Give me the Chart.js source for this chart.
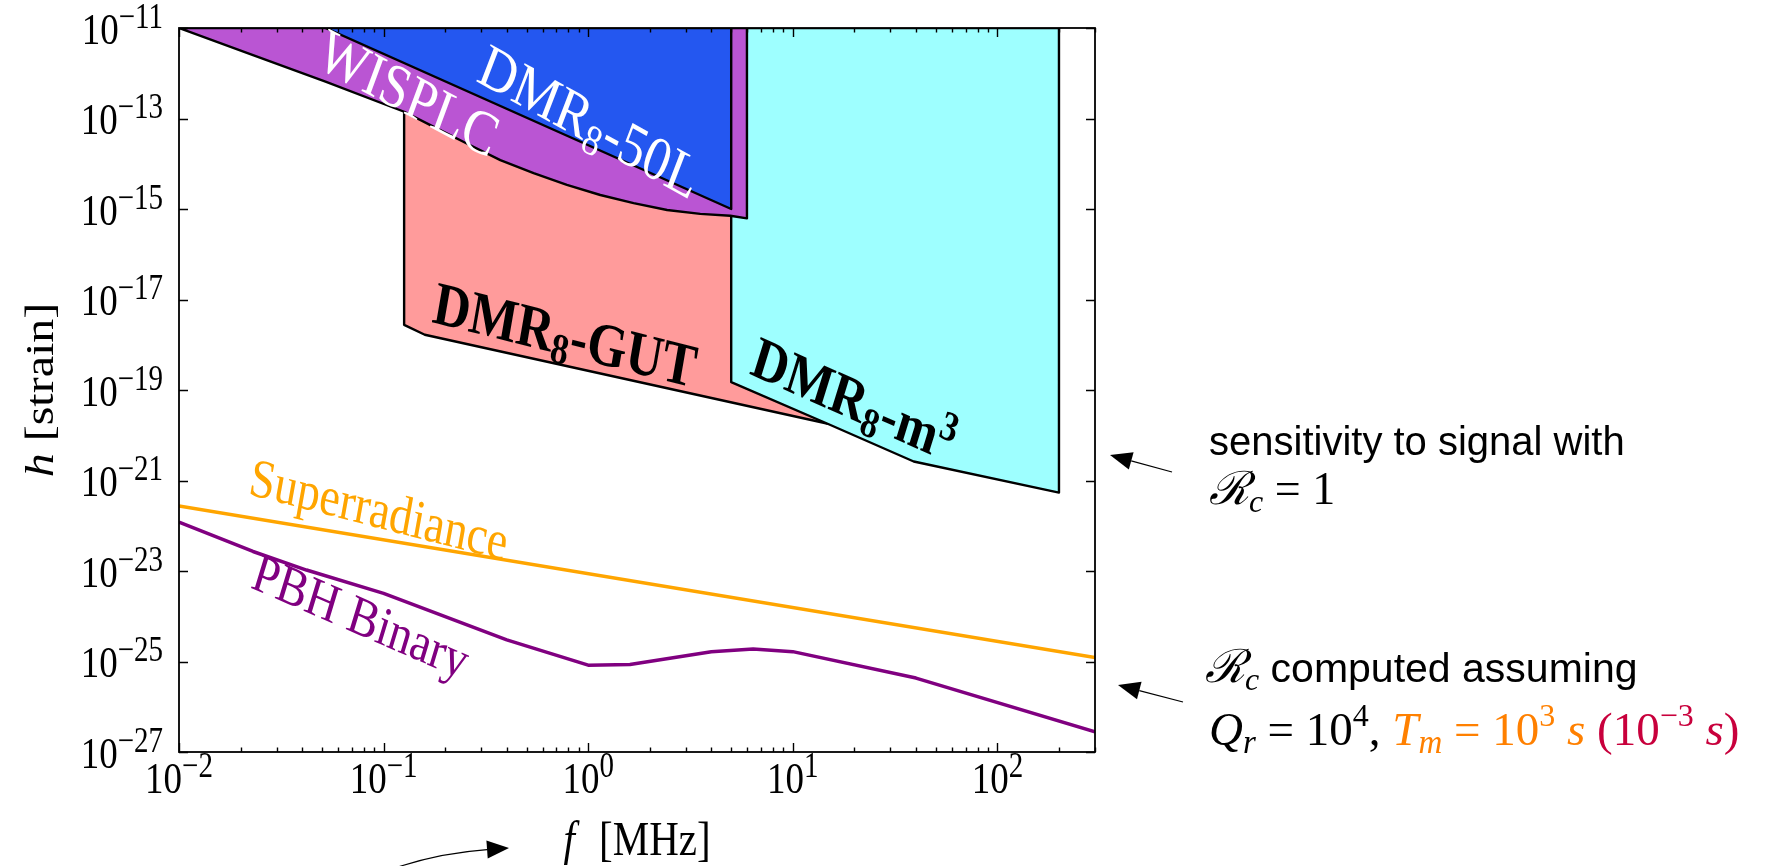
<!DOCTYPE html>
<html>
<head>
<meta charset="utf-8">
<script src="https://cdn.jsdelivr.net/npm/chart.js@4.4.1/dist/chart.umd.min.js"></script>
<style>
  html, body { margin: 0; padding: 0; background: #fff; }
  canvas { display: block; }
</style>
</head>
<body>
<canvas id="myChart" width="1780" height="866"></canvas>
<script>
// f in MHz, h dimensionless strain
const wisplcF = [0.01, 0.023, 0.052, 0.126, 0.175, 0.255, 0.372, 0.541, 0.787, 1.146, 1.667, 2.43, 3.53, 4.95, 5.97, 5.97, 0.01];
const wisplcH = [1e-11, 2.5e-12, 6.5e-13, 1.41e-13, 6.6e-14, 2.8e-14, 1.2e-14, 6.2e-15, 3.4e-15, 2.04e-15, 1.35e-15, 9.5e-16, 7.8e-16, 7.1e-16, 6.2e-16, 1e-11, 1e-11];

const dmr50F = [0.052, 5.0, 5.0, 0.052];
const dmr50H = [1e-11, 1e-15, 1e-11, 1e-11];

const gutF = [0.126, 0.126, 0.159, 14.7, 14.7, 0.126];
const gutH = [1e-11, 2.75e-18, 1.66e-18, 1.82e-20, 1e-11, 1e-11];

const m3F = [5.0, 5.0, 14.7, 39, 200, 200, 5.0];
const m3H = [1e-11, 1.5e-19, 1.82e-20, 2.63e-21, 5.4e-22, 1e-11, 1e-11];

const superF = [0.01, 300];
const superH = [2.75e-22, 1.23e-25];

const pbhF = [0.01, 0.023, 0.042, 0.1, 0.4, 1.0, 1.6, 4.0, 6.4, 10, 40, 300];
const pbhH = [1.2e-22, 2.7e-23, 1.05e-23, 3.2e-24, 3.0e-25, 8.3e-26, 8.6e-26, 1.65e-25, 1.9e-25, 1.65e-25, 4.3e-26, 2.8e-27];

const xTickExp = [-2, -1, 0, 1, 2];
const yTickExp = [-11, -13, -15, -17, -19, -21, -23, -25, -27];

const SERIF = "'Liberation Serif', 'DejaVu Serif', serif";
const SANS = "'Liberation Sans', Arial, sans-serif";
const TALL = 1.2;   // plot lettering is drawn a bit taller than wide

function zip(fs, hs) {
    return fs.map((f, i) => ({ x: f, y: hs[i] }));
}

// one piece of a mixed-font text line
function P(text, size, opt) {
    opt = opt || {};
    return {
        text: text,
        size: size,
        font: (opt.style || '') + ' ' + (opt.weight || '') + ' ' + size + 'px ' + (opt.family || SERIF),
        color: opt.color,
        dy: opt.dy || 0,
        gap: opt.gap || 0
    };
}

function richText(ctx, parts, x, y, o) {
    o = o || {};
    const sx = o.sx || 1, sy = o.sy || 1;
    const t = (o.rot || 0) * Math.PI / 180;
    ctx.save();
    ctx.translate(x, y);
    ctx.scale(sx, sy);
    ctx.rotate(Math.atan2(Math.sin(t) / sy, Math.cos(t) / sx));
    ctx.textAlign = 'left';
    ctx.textBaseline = 'alphabetic';
    let total = 0;
    parts.forEach(p => {
        ctx.font = p.font;
        p.w = ctx.measureText(p.text).width + p.gap;
        total += p.w;
    });
    let cx = o.align === 'center' ? -total / 2 : (o.align === 'right' ? -total : 0);
    const base = o.mid ? parts[0].size * 0.33 : 0;
    parts.forEach(p => {
        ctx.font = p.font;
        ctx.fillStyle = p.color || o.color || '#000';
        ctx.fillText(p.text, cx, p.dy + base);
        cx += p.w;
    });
    ctx.restore();
}

function arrow(ctx, x0, y0, x1, y1, cx, cy) {
    const hl = 22, hw = 9;
    const dx = x1 - (cx !== undefined ? cx : x0);
    const dy = y1 - (cy !== undefined ? cy : y0);
    const len = Math.hypot(dx, dy);
    const ux = dx / len, uy = dy / len;
    const bx = x1 - ux * hl, by = y1 - uy * hl;
    ctx.save();
    ctx.strokeStyle = '#000';
    ctx.fillStyle = '#000';
    ctx.lineWidth = 1.2;
    ctx.beginPath();
    ctx.moveTo(x0, y0);
    if (cx !== undefined) ctx.quadraticCurveTo(cx, cy, bx, by);
    else ctx.lineTo(bx, by);
    ctx.stroke();
    ctx.beginPath();
    ctx.moveTo(x1, y1);
    ctx.lineTo(bx - uy * hw, by + ux * hw);
    ctx.lineTo(bx + uy * hw, by - ux * hw);
    ctx.closePath();
    ctx.fill();
    ctx.restore();
}

// labels placed inside the plot, centred on (f, h)
const bold = { weight: 'bold' };
const plotLabels = [
    { f: 0.133, h: 3.6e-13, rot: 28, color: '#fff', parts: [P('WISPLC', 52)] },
    { f: 1.02, h: 8.5e-14, rot: 29, color: '#fff',
      parts: [P('DMR', 52), P('8', 36, { dy: 8 }), P('-50L', 52)] },
    { f: 0.772, h: 1.66e-18, rot: 14, color: '#000',
      parts: [P('DMR', 51, bold), P('8', 36, { weight: 'bold', dy: 8 }), P('-GUT', 51, bold)] },
    { f: 19.9, h: 6.2e-20, rot: 24, color: '#000',
      parts: [P('DMR', 50, bold), P('8', 35, { weight: 'bold', dy: 8 }), P('-m', 50, bold),
              P('3', 35, { weight: 'bold', dy: -17 })] },
    { f: 0.095, h: 2.3e-22, rot: 14.5, color: '#FFA500', parts: [P('Superradiance', 46)] },
    { f: 0.0775, h: 1.0e-24, rot: 23.5, color: '#800080', parts: [P('PBH Binary', 46)] }
];

const decorPlugin = {
    id: 'decor',
    beforeDraw(chart) {
        const ctx = chart.ctx;
        ctx.save();
        ctx.fillStyle = '#fff';
        ctx.fillRect(0, 0, chart.width, chart.height);
        ctx.restore();
    },
    afterDatasetsDraw(chart) {
        const ctx = chart.ctx;
        const xs = chart.scales.x, ys = chart.scales.y;
        plotLabels.forEach(l => {
            richText(ctx, l.parts, xs.getPixelForValue(l.f), ys.getPixelForValue(l.h),
                { rot: l.rot, align: 'center', color: l.color, sy: TALL, mid: true });
        });
    },
    afterDraw(chart) {
        const ctx = chart.ctx;
        const xs = chart.scales.x, ys = chart.scales.y;
        const { left, right, top, bottom } = chart.chartArea;

        ctx.save();
        ctx.strokeStyle = '#000';
        ctx.lineWidth = 1.8;
        ctx.strokeRect(left, top, right - left, bottom - top);

        ctx.lineWidth = 1.4;
        ctx.beginPath();
        // x ticks, inward on bottom and top
        for (let e = -2; e <= 2; e++) {
            for (let m = 1; m <= 9; m++) {
                const v = m * Math.pow(10, e);
                if (v > xs.max) break;
                const px = Math.round(xs.getPixelForValue(v)) + 0.5;
                const len = m === 1 ? 9 : 4.5;
                ctx.moveTo(px, bottom); ctx.lineTo(px, bottom - len);
                ctx.moveTo(px, top); ctx.lineTo(px, top + len);
            }
        }
        // y ticks, inward on left and right
        yTickExp.forEach(e => {
            const py = Math.round(ys.getPixelForValue(Math.pow(10, e))) + 0.5;
            ctx.moveTo(left, py); ctx.lineTo(left + 9, py);
            ctx.moveTo(right, py); ctx.lineTo(right - 9, py);
        });
        ctx.stroke();
        ctx.restore();

        // tick labels
        xTickExp.forEach(e => {
            const px = xs.getPixelForValue(Math.pow(10, e));
            richText(ctx, [P('10', 37), P((e < 0 ? '\u2212' : '') + Math.abs(e), 29, { dy: -13 })],
                px, bottom + 41, { align: 'center', sy: TALL });
        });
        yTickExp.forEach(e => {
            const py = ys.getPixelForValue(Math.pow(10, e));
            richText(ctx, [P('10', 37), P('\u2212' + Math.abs(e), 29, { dy: -13 })],
                left - 16, py + 15.5, { align: 'right', sy: TALL });
        });

        // axis titles
        richText(ctx, [P('f', 41, { style: 'italic', gap: 14 }), P(' [MHz]', 41)],
            (left + right) / 2, 855, { align: 'center', sy: TALL });
        richText(ctx, [P('h', 40, { style: 'italic' }), P(' [strain]', 40)],
            53, (top + bottom) / 2, { rot: -90, align: 'center', sy: TALL });

        // notes beside the plot
        richText(ctx, [P('sensitivity to signal with', 40, { family: SANS })], 1209, 455);
        richText(ctx, [P('\u211B', 46, { style: 'italic' }), P('c', 32, { style: 'italic', dy: 8 }), P(' = 1', 46)],
            1209, 504);
        richText(ctx, [P('\u211B', 46, { style: 'italic' }), P('c', 32, { style: 'italic', dy: 8 }),
                       P(' computed assuming', 41, { family: SANS })], 1205, 682);
        const orange = '#FF8000', crimson = '#C8003C';
        richText(ctx, [
            P('Q', 47, { style: 'italic' }), P('r', 33, { style: 'italic', dy: 8 }), P(' = 10', 47),
            P('4', 32, { dy: -19 }), P(', ', 47),
            P('T', 47, { style: 'italic', color: orange }), P('m', 33, { style: 'italic', dy: 8, color: orange }),
            P(' = 10', 47, { color: orange }), P('3', 32, { dy: -19, color: orange }),
            P(' s', 47, { style: 'italic', color: orange }),
            P(' (10', 47, { color: crimson }), P('\u22123', 32, { dy: -19, color: crimson }),
            P(' s', 47, { style: 'italic', color: crimson }), P(')', 47, { color: crimson })
        ], 1209, 745);

        arrow(ctx, 1172, 472, 1110, 455);
        arrow(ctx, 1183, 702, 1118, 685);
        arrow(ctx, 398, 867, 509, 848, 440, 853);
    }
};

const outline = { borderColor: '#000', borderWidth: 2.4, fill: 'shape', pointRadius: 0, tension: 0, borderJoinStyle: 'round' };

const ctx = document.getElementById('myChart').getContext('2d');
const myChart = new Chart(ctx, {
    type: 'line',
    data: {
        datasets: [
            Object.assign({ label: 'DMR8-50L', data: zip(dmr50F, dmr50H), backgroundColor: '#2457F0', order: 1 }, outline),
            Object.assign({ label: 'WISPLC', data: zip(wisplcF, wisplcH), backgroundColor: '#BA55D3', order: 2 }, outline),
            Object.assign({ label: 'DMR8-m3', data: zip(m3F, m3H), backgroundColor: '#9EFFFF', order: 3 }, outline),
            Object.assign({ label: 'DMR8-GUT', data: zip(gutF, gutH), backgroundColor: '#FF9B9B', order: 4 }, outline),
            { label: 'Superradiance', data: zip(superF, superH), borderColor: '#FFA500', borderWidth: 3.5,
              fill: false, pointRadius: 0, tension: 0, order: 0 },
            { label: 'PBH Binary', data: zip(pbhF, pbhH), borderColor: '#800080', borderWidth: 3.5,
              fill: false, pointRadius: 0, tension: 0, order: 0, borderJoinStyle: 'round' }
        ]
    },
    options: {
        responsive: false,
        animation: false,
        devicePixelRatio: 1,
        events: [],
        layout: { padding: { left: 179, right: 685, top: 28, bottom: 114 } },
        plugins: { legend: { display: false }, tooltip: { enabled: false } },
        scales: {
            x: { type: 'logarithmic', min: 0.01, max: 300, display: false },
            y: { type: 'logarithmic', min: 1e-27, max: 1e-11, display: false }
        }
    },
    plugins: [decorPlugin]
});
</script>
</body>
</html>
